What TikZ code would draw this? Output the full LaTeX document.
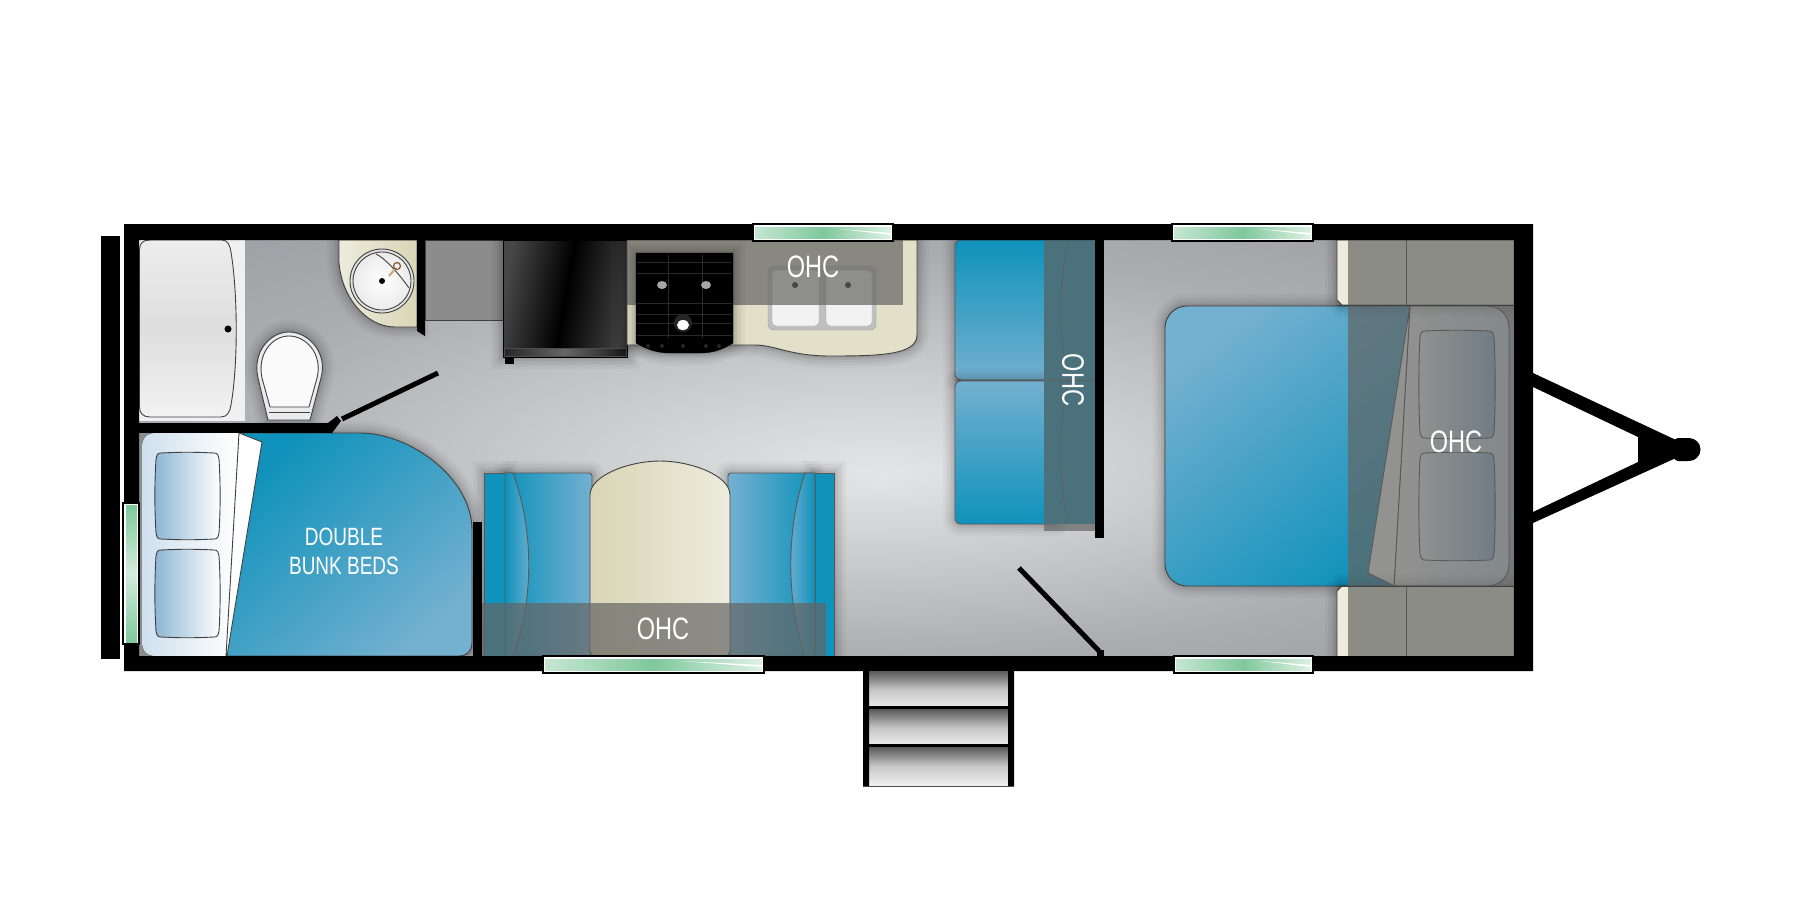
\documentclass[tikz,border=0pt]{standalone}
\usepackage{fontspec}
\setmainfont[FakeStretch=0.76]{Liberation Sans}

\definecolor{floorlight}{HTML}{E4E5E7}
\definecolor{floormid}{HTML}{CBCCCE}
\definecolor{floordark}{HTML}{ACADB1}
\definecolor{flooredge}{HTML}{9A9BA0}
\definecolor{seatblue}{HTML}{0F92BB}
\definecolor{seatpale}{HTML}{74B0D0}
\definecolor{pillowblue}{HTML}{8DB5D3}
\definecolor{headpale}{HTML}{CFE0EE}
\definecolor{creamlight}{HTML}{EDEBDC}
\definecolor{creamdark}{HTML}{D9D5B6}
\definecolor{hoodgray}{HTML}{646462}
\definecolor{glassgreen}{HTML}{7FC89B}

\pgfdeclareradialshading{floorglow}{\pgfpoint{2bp}{-3bp}}{color(0bp)=(floorlight); color(11bp)=(floormid); color(24bp)=(floordark); color(38bp)=(flooredge)}

\tikzset{
  wallfill/.style={fill=black},
  softedge/.style={
    preaction={draw=black,draw opacity=.03,line width=24pt},
    preaction={draw=black,draw opacity=.035,line width=18pt},
    preaction={draw=black,draw opacity=.04,line width=13pt},
    preaction={draw=black,draw opacity=.05,line width=8pt},
    preaction={draw=black,draw opacity=.06,line width=4pt}},
  outline/.style={draw=black!75,line width=.9pt},
  seatline/.style={draw=black!65,line width=.9pt},
  hood/.style={fill=hoodgray,fill opacity=.7},
  pillowleft/.style={outline,left color=pillowblue,right color=white},
  pillowright/.style={outline,left color=white,right color=pillowblue},
  grate/.style={draw=black!84,line width=1pt},
  ohclabel/.style={text=white,inner sep=0pt,font=\fontsize{31}{31}\selectfont},
  bunklabel/.style={text=white,inner sep=0pt,align=center,font=\fontsize{25}{29}\selectfont}
}

% x1 y1 x2 y2 box of one pillow with bowed sides
\newcommand{\pillow}[5]{
  \draw[#1] ({#2+5},#3) .. controls ({#2+25},{#3-1}) and ({#4-25},{#3-1}) .. ({#4-5},#3)
    .. controls ({#4-1},#3) and ({#4-1},{#3+2}) .. (#4,{#3+6})
    .. controls ({#4+1.5},{#3+30}) and ({#4+1.5},{#5-30}) .. (#4,{#5-6})
    .. controls ({#4-1},{#5-2}) and ({#4-1},#5) .. ({#4-5},#5)
    .. controls ({#4-25},{#5+1}) and ({#2+25},{#5+1}) .. ({#2+5},#5)
    .. controls ({#2+1},#5) and ({#2+1},{#5-2}) .. (#2,{#5-6})
    .. controls ({#2-1.5},{#5-30}) and ({#2-1.5},{#3+30}) .. (#2,{#3+6})
    .. controls ({#2+1},{#3+2}) and ({#2+1},#3) .. ({#2+5},#3) -- cycle;
}

\begin{document}
\begin{tikzpicture}[x=1pt,y=-1pt]
  \useasboundingbox (0,0) rectangle (1800,900);

  % Floor
  \fill[shading=floorglow] (139,240) rectangle (1514,656);

  % Bathroom
  \fill[black!6] (139,240) rectangle (245,421);
  \draw[outline,top color=black!7,bottom color=black!5,middle color=black!13]
    (139.5,250) .. controls (139.5,243) and (143,240) .. (150,240) -- (222,240)
    .. controls (228,240) and (230,246) .. (231,252)
    .. controls (238,295) and (238,365) .. (231,405)
    .. controls (230,412) and (227,417) .. (221,417) -- (150,417)
    .. controls (143,417) and (139.5,413) .. (139.5,407) -- cycle;
  \fill[black] (228,329) circle (3.5);
  \draw[outline,softedge,fill=black!8] (268,420) -- (258,378) .. controls (252,352) and (270,332) .. (289,332)
    .. controls (308,332) and (328,352) .. (321,378) -- (310,420) -- cycle;
  \draw[outline,fill=black!2] (270,407) -- (262,378) .. controls (257,354) and (272,336) .. (289,336)
    .. controls (306,336) and (323,354) .. (317,378) -- (309,407) -- cycle;
  \draw[outline] (269,412) -- (310,412);
  \draw[outline,softedge,left color=creamlight,right color=creamdark] (339,240) -- (339,262)
    .. controls (341,295) and (365,327) .. (395,327) -- (417,327) -- (417,240) -- cycle;
  \draw[outline,inner color=white,outer color=black!12] (382,281) circle (32);
  \draw[outline,inner color=white,outer color=black!8] (382,281) circle (29);
  \draw[outline] (376,254) .. controls (385,258) and (400,275) .. (409,288);
  \fill[black] (382,281) circle (3);
  \draw[brown!70!white,line width=2pt] (389,276) -- (396,268);
  \draw[brown!70!black,line width=1.2pt] (397,266) circle (3.5);
  \fill[wallfill] (417,240) -- (425,240) -- (425,336) -- (417,331) -- cycle;

  % Wardrobe and fridge
  \draw[outline,fill=black!45] (425,240) rectangle (503,320);
  \draw[black,softedge,left color=black!72,right color=black!75,middle color=black,shading angle=80]
    (503,240) rectangle (627,357);
  \draw[black!70,left color=black!85,right color=black!90,middle color=black!60] (504,348) rectangle (626,356);
  \fill[black] (505,357) rectangle (514,364);

  % Galley
  \draw[outline,softedge,fill=creamlight!50!creamdark] (627,240) -- (627,345) -- (755,345)
    .. controls (775,345) and (790,356) .. (830,356) .. controls (880,356) and (917,355) .. (917,335)
    -- (917,240) -- cycle;
  \draw[draw=black!40,fill=black!25,rounded corners=6] (768,266) rectangle (876,330);
  \foreach \xa/\xb in {772/819,826/872}
    \draw[draw=black!35,fill=black!5,rounded corners=4] (\xa,270) rectangle (\xb,326);
  \foreach \xa in {795,848}
    \fill[black] (\xa,285) circle (3);
  \fill[hood] (627,240) rectangle (903,305);

  % Stove
  \draw[black,softedge,fill=black] (636,340) -- (636,253) -- (733,253) -- (733,340)
    -- (733,343) .. controls (722,350) and (712,353) .. (700,353) -- (670,353)
    .. controls (658,353) and (648,350) .. (636,343) -- cycle;
  \foreach \ya in {262,273,303,314,323,335}
    \draw[grate] (637,\ya) -- (732,\ya);
  \foreach \xa in {668,702}
    \draw[grate] (\xa,255) -- (\xa,338);
  \foreach \xa in {648,662,683,706,719}
    \fill[black!85] (\xa,346) circle (2);
  \foreach \xa in {662,706}
    \fill[black!35] (\xa,285) ellipse (5 and 4);
  \fill[black!85] (683,323) circle (9);
  \fill[white] (683,325) ellipse (6 and 5);

  % Booth
  \draw[seatline,softedge,rounded corners=6,top color=seatblue,bottom color=seatpale] (955,240) rectangle (1060,380);
  \draw[seatline,softedge,rounded corners=6,top color=seatpale,bottom color=seatblue] (955,381) rectangle (1060,524);
  \fill[seatblue] (1044,240) rectangle (1095,524);
  \draw[seatline] (1068,240) .. controls (1058,290) and (1058,330) .. (1068,380)
    .. controls (1058,430) and (1058,474) .. (1068,524);
  \draw[seatline] (955,380) -- (1095,380);
  \fill[hood] (1044,240) rectangle (1095,531);
  \fill[wallfill] (1095,240) rectangle (1104,538);

  % Bed
  \draw[outline,softedge,top color=seatpale,bottom color=seatblue,shading angle=38,rounded corners=22]
    (1165,306) rectangle (1440,586);
  \draw[outline,left color=white,right color=headpale] (1410,306) -- (1487,306) .. controls (1500,306) and (1509,315) .. (1509,328)
    -- (1509,564) .. controls (1509,577) and (1500,586) .. (1487,586) -- (1394,586) -- cycle;
  \draw[outline,fill=white] (1410,306) -- (1368,573) -- (1394,586) -- cycle;
  \pillow{pillowright}{1420}{331}{1494}{438}
  \pillow{pillowright}{1420}{453}{1494}{560}
  \draw[outline,softedge,fill=creamlight] (1337,300) -- (1337,240) -- (1514,240) -- (1514,305) -- (1342,305) -- cycle;
  \draw[outline,softedge,fill=creamlight] (1337,591) -- (1337,657) -- (1514,657) -- (1514,586) -- (1342,586) -- cycle;
  \fill[hood] (1348,240) rectangle (1514,657);
  \draw[seatline] (1406,240) -- (1406,305) (1406,586) -- (1406,657);
  \draw[outline] (1337,305) -- (1514,305) (1337,586) -- (1514,586);

  % Bunks
  \draw[outline,softedge,top color=seatblue,bottom color=seatpale,shading angle=42] (243,433) -- (360,433)
    .. controls (410,433) and (472,478) .. (472,530) -- (472,642)
    .. controls (472,651) and (467,656) .. (458,656) -- (227,656) -- cycle;
  \fill[black!45] (139,433) rectangle (160,656);
  \fill[left color=headpale,right color=white] (239,433) -- (156,433) .. controls (147,433) and (142,438) .. (142,447)
    -- (142,642) .. controls (142,651) and (147,656) .. (156,656) -- (226,656) -- cycle;
  \draw[outline,fill=white] (239,433) -- (262,442) -- (227,656) -- (226,656) -- cycle;
  \pillow{pillowleft}{156}{453}{219}{539}
  \pillow{pillowleft}{156}{550}{219}{637}

  % Dinette
  \draw[seatline,softedge,left color=seatblue,right color=seatpale,rounded corners=3] (505,473) rectangle (592,656);
  \draw[seatline,softedge,fill=seatblue] (484.5,473) rectangle (505,656);
  \draw[seatline,left color=seatblue,right color=seatpale] (505,473) -- (513,473) .. controls (534,530) and (534,600) .. (513,656) -- (505,656) -- cycle;
  \draw[seatline,softedge,left color=seatpale,right color=seatblue,rounded corners=3] (728,473) rectangle (815,656);
  \draw[seatline,softedge,fill=seatblue] (815,473) rectangle (834,656);
  \draw[seatline,left color=seatpale,right color=seatblue] (815,473) -- (805,473) .. controls (786,530) and (786,600) .. (805,656) -- (815,656) -- cycle;
  \draw[outline,left color=creamdark,right color=creamlight] (590,650) -- (590,495)
    .. controls (590,475) and (630,461) .. (660,461) .. controls (690,461) and (730,475) .. (730,495)
    -- (730,650) .. controls (730,654) and (728,656) .. (724,656) -- (596,656)
    .. controls (592,656) and (590,654) .. (590,650) -- cycle;
  \fill[hood] (481.5,603) rectangle (825.5,656);

  % Walls
  \fill[wallfill,even odd rule] (124,224) rectangle (1533,671) (139,240) rectangle (1514,656);
  \fill[wallfill] (101,236) rectangle (120,659);
  \fill[wallfill] (139,423) rectangle (328,433);
  \fill[wallfill] (328,423) -- (337,416) -- (341,421) -- (332,433) -- (328,433) -- cycle;
  \fill[wallfill] (473,522) rectangle (482,656);

  % Doors
  \draw[black,line width=5pt] (438,373) -- (342,419);
  \draw[black,line width=5pt] (1019,568) -- (1099,651);
  \fill[wallfill] (1097,650) rectangle (1104,656);

  % Windows
  \foreach \xa/\xb/\ya in {543/764/656,753/893/224,1172/1313/224,1174/1313/656}{
    \draw[black,fill=white,line width=1.5pt] (\xa,\ya) rectangle (\xb,\ya+17);
    \fill[left color=glassgreen!45,right color=glassgreen!25,middle color=glassgreen]
      (\xa+2,\ya+3) rectangle (\xb-2,\ya+14);
    \fill[white] ({\xa+0.62*(\xb-\xa)},\ya+5) -- (\xb-2,\ya+9) -- (\xb-2,\ya+11) -- cycle;
  }
  \draw[black,fill=white,line width=1.5pt] (123,503) rectangle (139,644);
  \fill[top color=glassgreen,bottom color=glassgreen,middle color=glassgreen!35] (126,505) rectangle (137,642);

  % Steps
  \foreach \ya in {671,709,747}
    \fill[top color=black!65,bottom color=black!6,middle color=black!22] (869,\ya) rectangle (1008,\ya+38);
  \foreach \ya in {706,744}
    \fill[wallfill] (863,\ya) rectangle (1014,\ya+3);
  \fill[wallfill] (863,671) rectangle (869,786) (1008,671) rectangle (1014,786);
  \draw[black!70,line width=1pt] (863,786) -- (1014,786);

  % Hitch
  \fill[wallfill] (1533,373) -- (1676,440) -- (1676,458) -- (1533,523) -- (1533,512) -- (1638,462)
    -- (1638,437) -- (1533,387) -- cycle;
  \fill[wallfill,rounded corners=4] (1674,438) rectangle (1692,461);
  \fill[wallfill] (1689,449.5) circle (11.5);

  % Labels
  \node[ohclabel]           (ohcgalley) at (813,267)  {OHC};
  \node[ohclabel,rotate=-90] (ohcbooth)  at (1073,380) {OHC};
  \node[ohclabel]           (ohcbed)    at (1456,442) {OHC};
  \node[ohclabel]           (ohcdinette) at (663,629) {OHC};
  \node[bunklabel]          (bunkbeds)  at (344,551)  {DOUBLE\\BUNK BEDS};

\end{tikzpicture}
\end{document}
